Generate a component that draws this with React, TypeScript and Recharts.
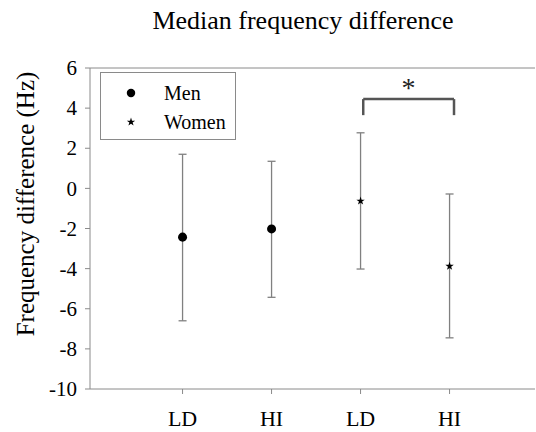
import React from 'react';
import {
  ComposedChart,
  Scatter,
  XAxis,
  YAxis,
  ErrorBar,
  ReferenceLine,
  Legend,
  Symbols,
} from 'recharts';

// ---- data ----
const categories = ['LD', 'HI', 'LD', 'HI'];
const categoryPositions = [1, 2, 3, 4];

const menX = [1, 2];
const menMedian = [-2.43, -2.02];
const menLower = [-6.6, -5.43];
const menUpper = [1.7, 1.35];

const womenX = [3, 4];
const womenMedian = [-0.63, -3.88];
const womenLower = [-4.02, -7.45];
const womenUpper = [2.77, -0.28];

const yTicks = [-10, -8, -6, -4, -2, 0, 2, 4, 6];
const xDomain = [-0.04, 4.96];
const yDomain = [-10, 6];

const bracketX = [3.03, 4.05];
const bracketTop = 4.45;
const bracketBottom = 3.65;

const legendItems = [
  { name: 'Men', symbol: 'circle' },
  { name: 'Women', symbol: 'star' },
];

const build = (xs: number[], med: number[], lo: number[], hi: number[]) =>
  xs.map((x, i) => ({ x, y: med[i], err: [med[i] - lo[i], hi[i] - med[i]] }));

const menData = build(menX, menMedian, menLower, menUpper);
const womenData = build(womenX, womenMedian, womenLower, womenUpper);

const FONT = '"Liberation Serif", "Times New Roman", serif';
const AXIS = '#8a8a8a';

const StarShape = (props: any) => (
  <Symbols cx={props.cx} cy={props.cy} type="star" size={22} fill="#000" stroke="none" />
);
const CircleShape = (props: any) => (
  <Symbols cx={props.cx} cy={props.cy} type="circle" size={64} fill="#000" stroke="none" />
);

const XTick = (props: any) => {
  const { x, y, payload } = props;
  const label = categories[categoryPositions.indexOf(payload.value)] ?? '';
  return (
    <text x={x} y={y} dy="0.71em" textAnchor="middle" fontFamily={FONT} fontSize={22} fill="#000">
      {label}
    </text>
  );
};

const YTick = (props: any) => {
  const { x, y, payload } = props;
  return (
    <text x={x} y={y} dy="0.34em" textAnchor="end" fontFamily={FONT} fontSize={21} fill="#000">
      {payload.value}
    </text>
  );
};

const LegendBox = () => (
  <div
    style={{
      width: 136,
      height: 68,
      border: `1px solid ${AXIS}`,
      boxSizing: 'border-box',
      background: '#fff',
      fontFamily: FONT,
      fontSize: 20,
      color: '#000',
      position: 'relative',
    }}
  >
    {legendItems.map((it, i) => (
      <div
        key={it.name}
        style={{ position: 'absolute', left: 0, top: 8 + i * 29, height: 24, width: 136 }}
      >
        <svg width={60} height={24} style={{ position: 'absolute', left: 0, top: 0 }}>
          <Symbols cx={30} cy={12} type={it.symbol as any} size={it.symbol === 'circle' ? 56 : 22} fill="#000" />
        </svg>
        <span style={{ position: 'absolute', left: 63, top: 0, lineHeight: '24px' }}>{it.name}</span>
      </div>
    ))}
  </div>
);

const YLabel = () => (
  <text
    x={25}
    y={204}
    transform="rotate(-90 25 204)"
    textAnchor="middle"
    dominantBaseline="central"
    fontFamily={FONT}
    fontSize={25}
    fill="#000"
  >
    Frequency difference (Hz)
  </text>
);

export default function App() {
  return (
    <div
      style={{
        position: 'absolute',
        left: 0,
        top: 0,
        width: 536,
        height: 432,
        background: '#fff',
        fontFamily: FONT,
      }}
    >
      <div
        style={{
          position: 'absolute',
          left: 0,
          top: 6,
          width: 606,
          textAlign: 'center',
          fontFamily: FONT,
          fontSize: 26,
          color: '#000',
          whiteSpace: 'nowrap',
        }}
      >
        Median frequency difference
      </div>
      <ComposedChart
        width={536}
        height={432}
        margin={{ top: 68, right: 1, bottom: 0, left: 0 }}
        style={{ position: 'absolute', left: 0, top: 0 }}
      >
        <XAxis
          type="number"
          dataKey="x"
          domain={xDomain}
          ticks={categoryPositions}
          height={43}
          stroke={AXIS}
          tickSize={5}
          tickMargin={16}
          tick={<XTick />}
          allowDataOverflow
        />
        <YAxis
          type="number"
          dataKey="y"
          domain={yDomain}
          ticks={yTicks}
          width={90}
          stroke={AXIS}
          tickSize={5}
          tickMargin={8}
          interval={0}
          tick={<YTick />}
          label={<YLabel />}
          allowDataOverflow
        />
        <ReferenceLine y={6} stroke={AXIS} strokeWidth={1} />
        <ReferenceLine
          segment={[
            { x: bracketX[0], y: bracketTop },
            { x: bracketX[1], y: bracketTop },
          ]}
          stroke="#555"
          strokeWidth={2.5}
          label={{ value: '*', position: 'top', offset: 2, fontSize: 28, fill: '#222', fontFamily: FONT }}
        />
        <ReferenceLine
          segment={[
            { x: bracketX[0], y: bracketBottom },
            { x: bracketX[0], y: bracketTop },
          ]}
          stroke="#555"
          strokeWidth={2.5}
        />
        <ReferenceLine
          segment={[
            { x: bracketX[1], y: bracketBottom },
            { x: bracketX[1], y: bracketTop },
          ]}
          stroke="#555"
          strokeWidth={2.5}
        />
        <Scatter name="Men" data={menData} shape={CircleShape} fill="#000" isAnimationActive={false}>
          <ErrorBar dataKey="err" direction="y" width={4} stroke="#808080" strokeWidth={1.3} />
        </Scatter>
        <Scatter name="Women" data={womenData} shape={StarShape} fill="#000" isAnimationActive={false}>
          <ErrorBar dataKey="err" direction="y" width={4} stroke="#808080" strokeWidth={1.3} />
        </Scatter>
        <Legend
          layout="vertical"
          align="center"
          verticalAlign="middle"
          content={<LegendBox />}
          wrapperStyle={{ position: 'absolute', left: 100, top: 72, width: 137, height: 69 }}
        />
      </ComposedChart>
    </div>
  );
}
